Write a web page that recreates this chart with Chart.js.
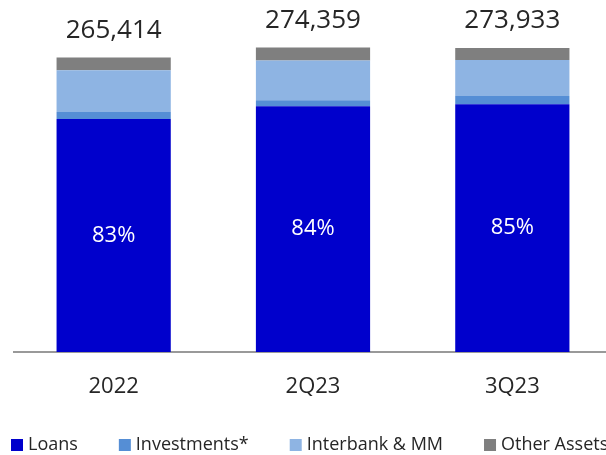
<!DOCTYPE html>
<html>
<head>
<meta charset="utf-8">
<script src="https://cdn.jsdelivr.net/npm/chart.js@4/dist/chart.umd.min.js"></script>
<style>
  html, body { margin: 0; padding: 0; background: #fff; overflow: hidden; }
  #wrap { width: 620px; height: 455px; }
</style>
</head>
<body>
<div id="wrap"><canvas id="assetsChart" width="620" height="455"></canvas></div>
<script>
const periods = ["2022", "2Q23", "3Q23"];

// asset mix, stacked from the bottom
const loans        = [209870, 221300, 223300];
const investments  = [6280, 5400, 7230];
const interbankMM  = [37600, 35970, 32550];
const otherAssets  = [11664, 11689, 10853];

const seriesNames  = ["Loans", "Investments*", "Interbank & MM", "Other Assets"];
const seriesColors = ["#0000CC", "#558ED5", "#8EB4E3", "#7F7F7F"];

const fontFamily = "'Open Sans', 'Liberation Sans', sans-serif";

// =======================
// Labels: totals on top, loan share inside
// =======================

const barLabels = {
    id: "barLabels",
    afterDatasetsDraw(chart) {
        const ctx = chart.ctx;
        const bottomMeta = chart.getDatasetMeta(0);
        const topMeta = chart.getDatasetMeta(chart.data.datasets.length - 1);

        ctx.save();
        ctx.textAlign = "center";
        ctx.textBaseline = "middle";

        periods.forEach((p, i) => {
            const total = loans[i] + investments[i] + interbankMM[i] + otherAssets[i];
            const topBar = topMeta.data[i];
            ctx.fillStyle = "#262626";
            ctx.font = "26px " + fontFamily;
            ctx.fillText(total.toLocaleString("en-US"), topBar.x, topBar.y - 27);

            const share = Math.round(loans[i] / (loans[i] + investments[i] + interbankMM[i]) * 100);
            const loanBar = bottomMeta.data[i];
            ctx.fillStyle = "#ffffff";
            ctx.font = "22px " + fontFamily;
            ctx.fillText(share + "%", loanBar.x, (loanBar.y + loanBar.base) / 2);
        });

        ctx.restore();
    }
};

// =======================
// Legend: one row along the bottom edge
// =======================

const bottomLegend = {
    id: "bottomLegend",
    afterDraw(chart) {
        const ctx = chart.ctx;
        const y = 445;
        let x = 11;

        ctx.save();
        ctx.font = "18px " + fontFamily;
        ctx.textAlign = "left";
        ctx.textBaseline = "middle";

        chart.data.datasets.forEach(ds => {
            ctx.fillStyle = ds.backgroundColor;
            ctx.fillRect(x, y - 6, 12, 12);
            ctx.fillStyle = "#262626";
            ctx.fillText(ds.label, x + 17, y);
            x += 17 + ctx.measureText(ds.label).width + 41;
        });

        ctx.restore();
    }
};

const seriesData = [loans, investments, interbankMM, otherAssets];

new Chart(document.getElementById("assetsChart"), {
    type: "bar",
    data: {
        labels: periods,
        datasets: seriesData.map((values, k) => ({
            label: seriesNames[k],
            data: values,
            backgroundColor: seriesColors[k],
            borderWidth: 0,
            categoryPercentage: 1,
            barPercentage: 0.573
        }))
    },
    options: {
        responsive: false,
        animation: false,
        devicePixelRatio: 1,
        layout: {
            padding: { left: 14, right: 8, top: 19, bottom: 59 }
        },
        scales: {
            x: {
                stacked: true,
                grid: { display: false, drawTicks: false },
                border: { display: true, color: "#999999", width: 2 },
                ticks: {
                    color: "#262626",
                    padding: 22,
                    font: { size: 22, family: fontFamily }
                },
                afterFit(scale) { scale.height = 44; }
            },
            y: {
                stacked: true,
                display: false,
                min: 0,
                max: 300000
            }
        },
        plugins: {
            legend: { display: false },
            tooltip: { enabled: false }
        }
    },
    plugins: [barLabels, bottomLegend]
});
</script>
</body>
</html>
